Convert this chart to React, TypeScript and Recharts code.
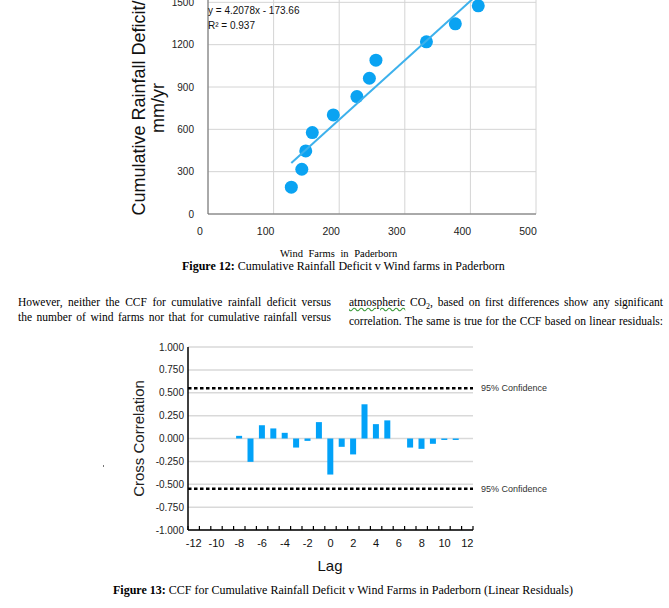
import React from 'react'
import {
  ScatterChart, Scatter, BarChart, Bar, XAxis, YAxis, CartesianGrid, ReferenceLine,
} from 'recharts'

// Figure 12 – scatter of cumulative rainfall deficit vs number of wind farms
const windFarms = [127, 143, 149, 159, 191, 227, 246, 256, 333, 377, 412]
const rainfallDeficit = [190, 317, 447, 577, 702, 832, 962, 1090, 1220, 1348, 1475]
const trendX = [127, 412]
const trendY = [361, 1560]
const farmTicks = [0, 100, 200, 300, 400, 500]
const deficitTicks = [0, 300, 600, 900, 1200, 1500, 1800]

// Figure 13 – CCF on linear residuals
const lags = [-12, -11, -10, -9, -8, -7, -6, -5, -4, -3, -2, -1, 0, 1, 2, 3, 4, 5, 6, 7, 8, 9, 10, 11, 12]
const ccfValues = [
  null, null, null, null, 0.029, -0.255, 0.145, 0.11, 0.062, -0.099, -0.026, 0.179,
  -0.394, -0.091, -0.174, 0.374, 0.157, 0.198, null, -0.099, -0.113, -0.058, -0.016, -0.016, null,
]
const ccfTicks = [-1, -0.75, -0.5, -0.25, 0, 0.25, 0.5, 0.75, 1]
const confidenceBounds = [0.55, -0.55]

const sans = '"Liberation Sans", Arial, sans-serif'
const serif = '"Liberation Serif", "Times New Roman", serif'

const scatterData = windFarms.map((x, i) => ({ x, y: rainfallDeficit[i] }))
const trendData = trendX.map((x, i) => ({ x, y: trendY[i] }))
const ccfData = lags.map((lag, i) => ({ lag, ccf: ccfValues[i] }))

const RotatedTitle = ({ tx, ty, lines, gap = 0, size, color = '#111' }: {
  tx: number; ty: number; lines: string[]; gap?: number; size: number; color?: string
}) => (
  <g>
    {lines.map((t, i) => (
      <text
        key={t} x={tx + i * gap} y={ty} transform={`rotate(-90 ${tx + i * gap} ${ty})`}
        textAnchor="middle" dominantBaseline="central" fontSize={size} fontFamily={sans} fill={color}
      >{t}</text>
    ))}
  </g>
)

const PlainTitle = ({ tx, ty, text, size }: { tx: number; ty: number; text: string; size: number }) => (
  <text x={tx} y={ty} textAnchor="middle" dominantBaseline="central" fontSize={size} fontFamily={sans} fill="#111">
    {text}
  </text>
)

const LagTick = (props: any) => {
  const { x, y, payload } = props
  const half = 5.7
  const v = payload.value
  return (
    <g>
      <line x1={x - half} x2={x - half} y1={y} y2={y - 4} stroke="#000" strokeWidth={1.2} />
      {v === lags[lags.length - 1] && (
        <line x1={x + half} x2={x + half} y1={y} y2={y - 4} stroke="#000" strokeWidth={1.2} />
      )}
      {v % 2 === 0 && (
        <text x={x} y={y + 13} textAnchor="middle" dominantBaseline="central" fontSize={11} fontFamily={sans} fill="#111">
          {v}
        </text>
      )}
    </g>
  )
}

const Dot = (p: any) => <circle cx={p.cx} cy={p.cy} r={6.5} fill="#0AA3F2" />

const line = (text: React.ReactNode, style: React.CSSProperties = {}) => (
  <div style={{ whiteSpace: 'nowrap', textAlign: 'justify', textAlignLast: 'justify', ...style }}>{text}</div>
)

export default function App() {
  return (
    <div style={{ position: 'absolute', left: 0, top: 0, width: 669, height: 608, overflow: 'hidden', background: '#fff', color: '#000' }}>
      {/* Figure 12 */}
      <div style={{ position: 'absolute', left: 0, top: -60 }}>
        <ScatterChart width={669} height={300} margin={{ top: 20, right: 133, bottom: 6, left: 148 }}>
          <CartesianGrid stroke="#d4d4d4" />
          <XAxis
            type="number" dataKey="x" domain={[0, 500]} ticks={farmTicks} height={20}
            axisLine={{ stroke: '#6b6b6b' }} tickLine={false} tickMargin={8}
            tick={{ fontSize: 10.5, fill: '#222', fontFamily: sans, dx: -8 }}
          />
          <YAxis
            type="number" dataKey="y" domain={[0, 1800]} ticks={deficitTicks} width={60}
            axisLine={{ stroke: '#6b6b6b' }} tickLine={false} tickMargin={8}
            tick={{ fontSize: 10, fill: '#222', fontFamily: sans }}
            label={<RotatedTitle tx={139} ty={168} gap={19} size={18} lines={['Cumulative Rainfall Deficit/', 'mm/yr']} />}
          />
          <Scatter data={scatterData} shape={Dot} isAnimationActive={false} />
          <Scatter
            data={trendData} line={{ stroke: '#3DB1EC', strokeWidth: 2 }} shape={() => null}
            isAnimationActive={false}
          />
        </ScatterChart>
      </div>
      <div style={{ position: 'absolute', left: 208, top: 3, fontFamily: sans, fontSize: 10, lineHeight: '15px', color: '#111' }}>
        <div>y = 4.2078x - 173.66</div>
        <div>R² = 0.937</div>
      </div>
      <div style={{ position: 'absolute', left: 280, top: 247, fontFamily: serif, fontSize: 10.5, lineHeight: '13px', wordSpacing: 3, whiteSpace: 'nowrap' }}>
        Wind Farms in Paderborn
      </div>
      <div style={{ position: 'absolute', left: 182, top: 258, fontFamily: serif, fontSize: 12, lineHeight: '16px', whiteSpace: 'nowrap' }}>
        <b>Figure 12:</b> Cumulative Rainfall Deficit v Wind farms in Paderborn
      </div>

      {/* body text */}
      <div style={{ position: 'absolute', left: 18, top: 295, width: 313, fontFamily: serif, fontSize: 11.5, lineHeight: '15px' }}>
        {line('However, neither the CCF for cumulative rainfall deficit versus')}
        {line('the number of wind farms nor that for cumulative rainfall versus')}
      </div>
      <div style={{ position: 'absolute', left: 349, top: 295, width: 314, fontFamily: serif, fontSize: 11.5, lineHeight: '15px' }}>
        {line(<>
          <span style={{ textDecoration: 'underline wavy #3a9a3a' }}>atmospheric</span> CO<sub style={{ fontSize: 8 }}>2</sub>, based on first differences show any significant
        </>)}
        {line('correlation. The same is true for the CCF based on linear residuals:')}
      </div>

      <div style={{ position: 'absolute', left: 103, top: 465, width: 1, height: 2, background: '#777' }} />

      {/* Figure 13 */}
      <div style={{ position: 'absolute', left: 0, top: 330 }}>
        <BarChart width={669} height={250} data={ccfData} margin={{ top: 17, right: 196, bottom: 20, left: 128 }} barCategoryGap="22%">
          <CartesianGrid vertical={false} stroke="#d9d9d9" strokeWidth={1.5} />
          <XAxis
            dataKey="lag" type="category" interval={0} height={30}
            axisLine={{ stroke: '#000', strokeWidth: 1.5 }} tickLine={false} tickSize={0} tickMargin={0}
            tick={<LagTick />}
            label={<PlainTitle tx={330} ty={235} text="Lag" size={15} />}
          />
          <YAxis
            domain={[-1, 1]} ticks={ccfTicks} width={60} interval={0}
            tickFormatter={(v: number) => v.toFixed(3)}
            axisLine={{ stroke: '#000', strokeWidth: 1.5 }} tickLine={false} tickSize={0} tickMargin={4}
            tick={{ fontSize: 10, fill: '#222', fontFamily: sans }}
            label={<RotatedTitle tx={138} ty={108.5} size={15} lines={['Cross Correlation']} color="#222" />}
          />
          {confidenceBounds.map((b) => (
            <ReferenceLine
              key={b} y={b} stroke="#000" strokeWidth={2.5} strokeDasharray="3.5 2.5"
              label={{ value: '95% Confidence', position: 'right', offset: 8, fill: '#333', fontSize: 9, fontFamily: sans }}
            />
          ))}
          <Bar dataKey="ccf" fill="#02A2F8" isAnimationActive={false} />
        </BarChart>
      </div>
      <div style={{ position: 'absolute', left: 113, top: 582, fontFamily: serif, fontSize: 12, lineHeight: '16px', whiteSpace: 'nowrap' }}>
        <b>Figure 13:</b> CCF for Cumulative Rainfall Deficit v Wind Farms in Paderborn (Linear Residuals)
      </div>
    </div>
  )
}
